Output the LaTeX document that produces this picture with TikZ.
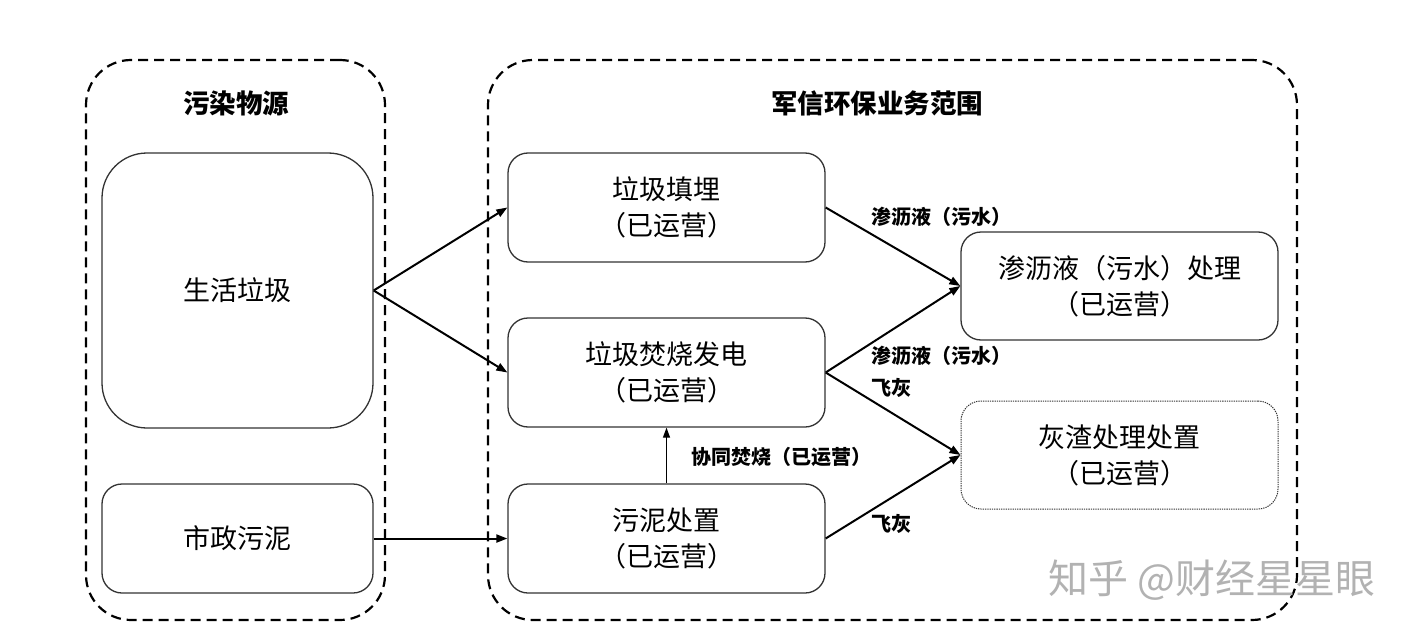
\documentclass[tikz,border=0pt]{standalone}
\usepackage{fontspec}
\setmainfont{Noto Sans CJK SC}
\usetikzlibrary{arrows.meta}
\tikzset{
  container/.style={draw, dash pattern=on 10pt off 6pt, line width=2.2pt, rounded corners=45pt, inner sep=0},
  title/.style={font=\bfseries\fontsize{26.5}{32}\selectfont, inner sep=0},
  procbox/.style={draw=black!80, line width=1.3pt, rounded corners=20pt, align=center, inner sep=0,
    font=\fontsize{27}{36}\selectfont, minimum width=317pt, minimum height=109pt},
  srcbox/.style={procbox, minimum width=271pt},
  lbl/.style={font=\bfseries\fontsize{20}{24}\selectfont, inner sep=0},
  arr/.style={-{Triangle[length=11pt,width=8pt]}, line width=2pt},
  thinarr/.style={-{Triangle[length=10pt,width=7pt]}, line width=1.3pt}
}
\begin{document}
\begin{tikzpicture}[x=1pt,y=-1pt]
\useasboundingbox (0,0) rectangle (1423,639);
% containers
\node[container, minimum width=299pt, minimum height=560pt] (left) at (235.5,340) {};
\node[container, minimum width=809pt, minimum height=560pt] (right) at (892.5,340) {};
\node[title] (t1) at (236,103) {污染物源};
\node[title] (t2) at (877,103) {军信环保业务范围};
% source boxes
\node[srcbox, minimum height=275pt, rounded corners=45pt] (shlj) at (237.5,290.5) {生活垃圾};
\node[srcbox] (szwn) at (237.5,538.5) {市政污泥};
% process boxes
\node[procbox] (ljtm) at (666.5,207.5) {垃圾填埋\\（已运营）};
\node[procbox] (fsfd) at (666.5,372.5) {垃圾焚烧发电\\（已运营）};
\node[procbox] (wncz) at (666.5,538.5) {污泥处置\\（已运营）};
\node[procbox, minimum height=108pt] (slcl) at (1119.5,286) {渗沥液（污水）处理\\（已运营）};
\node[procbox, minimum height=108pt, densely dotted, line width=1pt] (hzcl) at (1119.5,455) {灰渣处理处置\\（已运营）};
% arrows
\draw[arr] (shlj.east) -- (ljtm.west);
\draw[arr] (shlj.east) -- (fsfd.west);
\draw[arr] (szwn.east) -- (wncz.west);
\draw[arr] (ljtm.east) -- (slcl.west);
\draw[arr] (fsfd.east) -- (slcl.west);
\draw[arr] (fsfd.east) -- (hzcl.west);
\draw[arr] (wncz.east) -- (hzcl.west);
\draw[thinarr] (wncz.north) -- (fsfd.south);
% labels
\node[lbl] (l1) at (941,217) {渗沥液（污水）};
\node[lbl] (l2) at (941,356) {渗沥液（污水）};
\node[lbl] (l3) at (891,388) {飞灰};
\node[lbl] (l4) at (891,524) {飞灰};
\node[lbl] (l5) at (781,457) {协同焚烧（已运营）};
% watermark
\node[font=\fontsize{40}{44}\selectfont, text=black!30, inner sep=0] (wm) at (1212,580) {知乎 @财经星星眼};
\end{tikzpicture}
\end{document}
